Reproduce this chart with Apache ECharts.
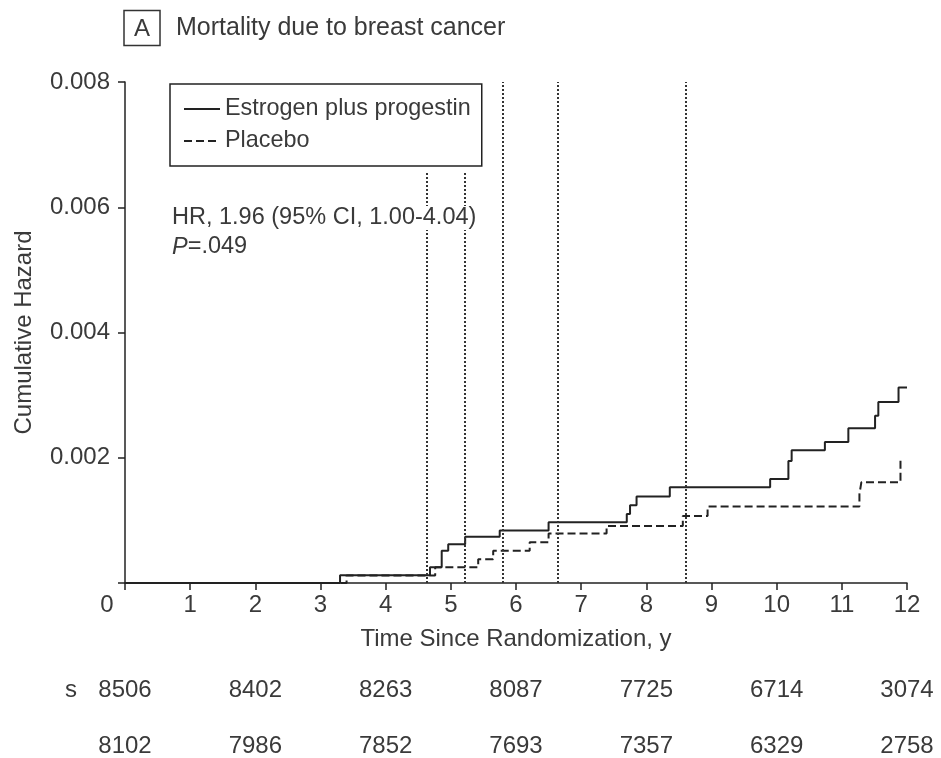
<!DOCTYPE html>
<html>
<head>
<meta charset="utf-8">
<script src="https://cdn.jsdelivr.net/npm/echarts@6/dist/echarts.min.js"></script>
<style>html,body{margin:0;padding:0;background:#fff}#c{width:941px;height:758px}</style>
</head>
<body>
<div id="c"></div>
<script>
// ---- data ----
var seriesNames = ['Estrogen plus progestin', 'Placebo'];
// [time (y), cumulative hazard]
var estrogenSteps = [[0,0],[3.30,0.000125],[4.68,0.00025],[4.86,0.000515],[4.96,0.00062],[5.22,0.00074],[5.75,0.00084],[6.50,0.00097],[7.70,0.0011],[7.75,0.00124],[7.85,0.00138],[8.36,0.00153],[9.90,0.00166],[10.18,0.00195],[10.23,0.00212],[10.74,0.00225],[11.10,0.00247],[11.51,0.00267],[11.56,0.00289],[11.87,0.00312],[12.0,0.00312]];
var placeboSteps = [[0,0],[3.40,0.00012],[4.76,0.00025],[5.42,0.00038],[5.65,0.000515],[6.21,0.00065],[6.50,0.00079],[7.39,0.00091],[8.56,0.00107],[8.94,0.00122],[11.27,0.00142],[11.30,0.00161],[11.90,0.00196]];
var shortRefLines = [4.63, 5.22];      // dotted lines starting below the legend
var fullRefLines = [5.80, 6.64, 8.61];  // dotted lines running full height
var shortRefTop = 0.00656;
var atRiskTimes = [0, 2, 4, 6, 8, 10, 12];
var atRiskEstrogen = [8506, 8402, 8263, 8087, 7725, 6714, 3074];
var atRiskPlacebo = [8102, 7986, 7852, 7693, 7357, 6329, 2758];
var yTicks = [0, 0.002, 0.004, 0.006, 0.008];

var FONT = '"Liberation Sans", Arial, sans-serif';
var TXT = '#3a3a3a';
var LINE = '#222';

var refData = [];
shortRefLines.forEach(function (x) { refData.push([{coord: [x, 0]}, {coord: [x, shortRefTop]}]); });
fullRefLines.forEach(function (x) { refData.push([{coord: [x, 0]}, {coord: [x, yTicks[yTicks.length - 1]]}]); });

function countFmt(arr) {
  return function (v) { var i = atRiskTimes.indexOf(v); return i >= 0 ? String(arr[i]) : ''; };
}

var chart = echarts.init(document.getElementById('c'), null, {renderer: 'canvas'});
chart.setOption({
  animation: false,
  backgroundColor: '#fff',
  textStyle: {fontFamily: FONT, color: TXT},
  title: {
    left: 119, top: 9,
    text: '{box|A}{t|Mortality due to breast cancer}',
    textStyle: {
      fontWeight: 'normal',
      rich: {
        box: {fontFamily: FONT, fontSize: 24, fontWeight: 'normal', color: TXT, borderColor: '#333', borderWidth: 1.5, padding: [7, 10, 4, 10], lineHeight: 28},
        t: {fontFamily: FONT, fontSize: 25, fontWeight: 'normal', color: TXT, padding: [0, 0, 0, 16]}
      }
    }
  },
  grid: {left: 125, right: 34, top: 82, bottom: 174, containLabel: false},
  legend: {
    left: 170, top: 84,
    orient: 'vertical',
    padding: [13, 11, 13, 13],
    borderColor: '#222', borderWidth: 1.5,
    itemWidth: 36, itemHeight: 14, itemGap: 8,
    itemStyle: {opacity: 0},
    textStyle: {fontFamily: FONT, fontSize: 23.4, color: TXT, lineHeight: 24},
    data: seriesNames
  },
  xAxis: [
    {
      type: 'value', min: 0, max: 12, interval: 1,
      name: 'Time Since Randomization, y', nameLocation: 'middle', nameGap: 44,
      nameTextStyle: {fontFamily: FONT, fontSize: 24, color: TXT},
      axisLine: {onZero: false, lineStyle: {color: LINE, width: 1.5}},
      axisTick: {length: 7, lineStyle: {color: LINE, width: 1.5}},
      axisLabel: {
        margin: 10, fontFamily: FONT, fontSize: 24, color: TXT,
        formatter: function (v) { return v === 0 ? '{z|0}' : String(v); },
        rich: {z: {fontFamily: FONT, fontSize: 24, color: TXT, padding: [0, 36, 0, 0]}}
      },
      splitLine: {show: false}
    },
    {
      type: 'value', min: 0, max: 12, interval: 2, position: 'bottom', offset: 85,
      axisLine: {show: false}, axisTick: {show: false}, splitLine: {show: false},
      axisLabel: {margin: 10, fontFamily: FONT, fontSize: 24, color: TXT, formatter: countFmt(atRiskEstrogen)}
    },
    {
      type: 'value', min: 0, max: 12, interval: 2, position: 'bottom', offset: 141,
      axisLine: {show: false}, axisTick: {show: false}, splitLine: {show: false},
      axisLabel: {margin: 10, fontFamily: FONT, fontSize: 24, color: TXT, formatter: countFmt(atRiskPlacebo)}
    }
  ],
  yAxis: {
    type: 'value', min: yTicks[0], max: yTicks[yTicks.length - 1], interval: 0.002,
    name: 'Cumulative Hazard', nameLocation: 'middle', nameGap: 89,
    nameTextStyle: {fontFamily: FONT, fontSize: 24, color: TXT},
    axisLine: {show: true, lineStyle: {color: LINE, width: 1.5}},
    axisTick: {show: true, length: 7, lineStyle: {color: LINE, width: 1.5}},
    axisLabel: {
      margin: 15, fontFamily: FONT, fontSize: 24, color: TXT,
      formatter: function (v) { return v === 0 ? '' : v.toFixed(3); }
    },
    splitLine: {show: false}
  },
  series: [
    {
      name: seriesNames[0], type: 'line', step: 'end', symbol: 'none',
      data: estrogenSteps,
      lineStyle: {color: LINE, width: 2, type: 'solid'},
      itemStyle: {color: LINE},
      z: 3,
      markLine: {
        silent: true, symbol: 'none', label: {show: false},
        lineStyle: {color: '#333', width: 2, type: [2, 2]},
        data: refData
      }
    },
    {
      name: seriesNames[1], type: 'line', step: 'end', symbol: 'none',
      data: placeboSteps,
      lineStyle: {color: LINE, width: 2, type: [8, 4]},
      itemStyle: {color: LINE},
      z: 3
    }
  ],
  graphic: [
    {
      type: 'text', left: 172, top: 206, z: 100,
      style: {
        text: '{hr|HR, 1.96 (95% CI, 1.00-4.04)}\n{p|P}{n|=.049}',
        rich: {
          hr: {fontFamily: FONT, fontSize: 23.5, fill: TXT, backgroundColor: '#fff', lineHeight: 29},
          p: {fontFamily: FONT, fontSize: 23.5, fill: TXT, fontStyle: 'italic', lineHeight: 29},
          n: {fontFamily: FONT, fontSize: 23.5, fill: TXT, lineHeight: 29}
        }
      }
    },
    {
      type: 'text', left: 65, top: 678, z: 100,
      style: {text: 's', fontFamily: FONT, fontSize: 24, fill: TXT}
    }
  ]
});
</script>
</body>
</html>
